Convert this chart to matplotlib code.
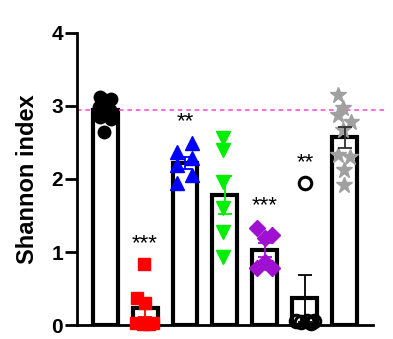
import matplotlib
matplotlib.use("Agg")
import matplotlib.pyplot as plt
import numpy as np

plt.rcParams['font.family'] = ['Liberation Sans', 'DejaVu Sans']

# Shannon index per group
g1 = [3.12, 3.08, 3.10, 2.98, 2.95, 2.85, 2.82, 2.64]
g2 = [0.84, 0.37, 0.30, 0.03, 0.02, 0.02, 0.03]
g3 = [2.49, 2.37, 2.29, 2.19, 2.05, 1.95]
g4 = [2.56, 2.40, 1.96, 1.60, 1.27, 0.93]
g5 = [1.33, 1.23, 1.19, 0.78, 0.78, 0.86]
g6 = [1.95, 0.06, 0.04, 0.05, 0.03, 0.06]
g7 = [3.15, 2.97, 2.88, 2.78, 2.67, 2.33, 2.30, 2.12, 1.92]
groups = [g1, g2, g3, g4, g5, g6, g7]

# significance marks vs. control
signif = ['', '***', '**', '', '***', '**', '']
signif_y = [0, 1.12, 2.78, 0, 1.64, 2.23, 0]

# horizontal scatter of the dots
jitter = [
    [-0.12, 0.0, 0.15, -0.15, 0.12, -0.12, 0.15, -0.03],
    [-0.03, -0.2, 0.0, -0.22, -0.05, 0.1, 0.2],
    [0.17, -0.2, 0.17, -0.2, 0.17, -0.2],
    [-0.05, -0.05, -0.05, -0.05, -0.05, -0.05],
    [-0.2, 0.17, 0.0, -0.2, 0.17, 0.0],
    [0.0, -0.22, -0.1, 0.05, 0.15, 0.22],
    [-0.18, -0.05, -0.18, 0.15, -0.05, -0.18, 0.12, -0.03, -0.03],
]

styles = [
    dict(marker='o', color='black', fill=True, ms=9, ecol='black'),
    dict(marker='s', color='#ff0000', fill=True, ms=8.5, ecol='#ff0000'),
    dict(marker='^', color='#0000ff', fill=True, ms=9.5, ecol='#0000ff'),
    dict(marker='v', color='#00ee00', fill=True, ms=9.5, ecol='#00ee00'),
    dict(marker='D', color='#a010d0', fill=True, ms=8, ecol='#a010d0'),
    dict(marker='o', color='black', fill=False, ms=9, ecol='black'),
    dict(marker='*', color='#a0a0a0', fill=True, ms=12, ecol='#303030'),
]

fig = plt.figure(figsize=(3.93, 3.39), dpi=100)
ax = fig.add_axes([0.196, 0.041, 0.753, 0.862])

x = np.arange(len(groups))
means = [np.mean(g) for g in groups]
sems = [np.std(g, ddof=1) / np.sqrt(len(g)) for g in groups]

ax.bar(x, means, width=0.625, color='white', edgecolor='black', linewidth=3, zorder=1)

for i, g in enumerate(groups):
    st = styles[i]
    xs = i + np.array(jitter[i])
    if st['fill']:
        ax.plot(xs, g, ls='none', marker=st['marker'], ms=st['ms'], color=st['color'],
                mec=st['color'], zorder=3, clip_on=False)
    else:
        ax.plot(xs, g, ls='none', marker=st['marker'], ms=st['ms'], mfc='none',
                mec=st['color'], mew=2.2, zorder=3, clip_on=False)
    ax.errorbar(i, means[i], yerr=sems[i], color=st['ecol'], elinewidth=1.3,
                capsize=5, capthick=1.3, zorder=4)
    if signif[i]:
        ax.text(i, signif_y[i], signif[i], ha='center', va='center', fontsize=16)

# control mean reference line
ax.plot([-0.7, 7.07], [means[0], means[0]], ls=(0, (3, 2.5)), color='#ff44cc',
        lw=1.1, clip_on=False, zorder=2)

ax.set_xlim(-0.7, 6.7)
ax.set_ylim(0, 4)
ax.set_yticks([0, 1, 2, 3, 4])
ax.set_xticks([])
ax.set_ylabel('Shannon index', fontsize=17, fontweight='bold', labelpad=9)
for lab in ax.get_yticklabels():
    lab.set_fontweight('bold')
ax.tick_params(axis='y', labelsize=15, width=2, length=8.5, pad=1.5)
ax.spines['top'].set_visible(False)
ax.spines['right'].set_visible(False)
ax.spines['left'].set_linewidth(2)
ax.spines['bottom'].set_linewidth(2)

fig.savefig('out.png', dpi=100)
